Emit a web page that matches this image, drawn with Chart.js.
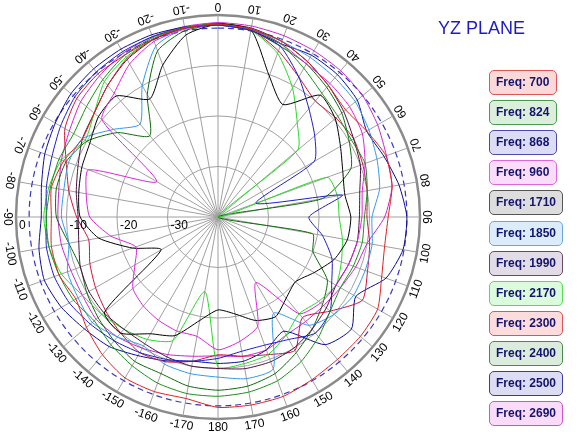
<!DOCTYPE html>
<html><head><meta charset="utf-8">
<script src="https://cdn.jsdelivr.net/npm/chart.js@4/dist/chart.umd.min.js"></script>
<style>
html,body{margin:0;padding:0;background:#fff;}
#wrap{position:relative;width:586px;height:436px;overflow:hidden;background:#fff;}
#c{position:absolute;left:0;top:0;}
#title{position:absolute;left:438px;top:18px;font:18px "Liberation Sans",Arial,sans-serif;color:#1c1cc4;white-space:nowrap;}
.lg{position:absolute;left:489px;height:25px;border:1px solid;border-radius:5px;box-sizing:border-box;font:bold 12px "Liberation Sans",Arial,sans-serif;color:#14146e;line-height:23px;padding-left:6px;white-space:nowrap;}
</style></head>
<body><div id="wrap"><canvas id="c" width="586" height="436"></canvas><div id="title">YZ PLANE</div></div>
<script>
// angle tick labels (0 at top, clockwise)
const angleLabels = ['0','10','20','30','40','50','60','70','80','90','100','110','120','130','140','150','160','170','180',
  '-170','-160','-150','-140','-130','-120','-110','-100','-90','-80','-70','-60','-50','-40','-30','-20','-10'];
const ringValues = [-30,-20,-10,0];
const ringLabels = ['-30','-20','-10','0'];
const freqs = ['700','824','868','960','1710','1850','1990','2170','2300','2400','2500','2690'];

// gain in dB at each angle of angleLabels
const f700  = [-1.8,-2.2,-3,-4.5,-6,-7,-6,-4.6,-5,-6.3, -6.5,-5.5,-3.5,-3.2,-3.2,-2.8,-2.2,-2.2,-2.3, -3.5,-3.2,-3.2,-4.4,-6,-7.5,-6.5,-6.5,-7,-6.5,-7.5,-9,-8,-6,-3.8,-2.5,-2];
const f824  = [-1.8,-2.2,-3.5,-6,-8,-9,-9.5,-9,-10,-11, -11,-11.5,-12,-11,-9,-7,-5.5,-4.8,-4.5, -4.5,-5,-6,-7,-8,-7,-6.5,-6,-6,-6.3,-6.5,-7,-6,-4.5,-3,-2.2,-1.9];
const f868  = [-2,-2.5,-4,-8,-12,-15,-18,-32,-15,-22, -19,-16,-14,-11,-10,-12,-13,-13,-12, -11,-10,-9,-8,-7,-6,-5.5,-5.5,-6,-5.5,-5,-4,-3,-2.5,-2.2,-2,-2];
const f960  = [-2,-2.3,-3.5,-5,-5.5,-6,-7,-9,-11,-11.5, -12,-12.5,-13,-13.5,-15,-25,-17,-15,-13.7, -16,-16,-16.4,-17,-18,-21,-22.7,-18.4,-14.6,-13.5,-12.7,-26,-10,-8,-5,-3,-2.2];
const f1710 = [-1.8,-2.4,-10.3,-14.3,-8.5,-9.7,-12,-13.7,-14.5,-13.7, -14,-15.5,-18,-20,-19,-17.2,-18.2,-20.5,-21.6, -19.2,-15,-13.3,-10,-10.7,-27,-22,-16,-12.7,-12,-11.3,-10.7,-9.1,-8.7,-13,-8,-3.4];
const f1850 = [-1.8,-2.2,-3,-3.5,-4,-4.5,-5.5,-6.5,-7.5,-9.5, -9,-9,-9,-10,-12,-18,-8,-7.5,-8.3, -8.5,-9,-10.5,-9,-7.5,-8,-8.3,-10,-9,-9,-8.5,-9,-13,-16,-10,-4,-2];
const f1990 = [-1.7,-2,-3,-4.5,-6,-7.5,-9,-10,-11.5,-12, -12,-12.5,-13,-12,-11,-10,-9.5,-9.5,-10, -10,-10.5,-11,-11,-10.5,-10.5,-11,-12,-12.3,-11.5,-10.5,-9,-8,-6,-4,-2.6,-2];
const f2170 = [-2,-2.5,-5.5,-10.5,-15.6,-19.4,-40,-17,-16,-16, -15,-14,-13,-14,-15,-13,-11,-10.5,-10.3, -25,-14,-12,-11,-10,-9,-7,-6,-5.5,-6,-7,-9.6,-8,-5,-3.5,-2.5,-2];
const f2300 = [-1.7,-2.3,-5,-8,-10,-9.5,-9,-9.5,-10,-10.5, -9.5,-8.5,-7,-11,-14,-9.5,-11,-12,-12.7, -11,-9.5,-9,-10,-11,-12,-13,-14,-12,-10,-8,-5,-3.5,-3,-3,-2.5,-2];
const f2400 = [-2,-2.5,-4,-5,-6.5,-8,-10,-12,-19,-40, -21,-20,-15,-13,-11,-9,-7,-6,-5.7, -6,-7,-7,-8,-9,-10,-11,-10,-8,-7.5,-8,-10,-14,-19,-12,-5,-2.5];
const f2500 = [-2,-2.5,-3.5,-3,-3.2,-4,-6,-5,-3.6,-2.6, -2.8,-4.6,-8.5,-5.5,-7,-13.9,-12,-11,-11, -11,-9.7,-8.3,-6.5,-5.5,-4.2,-3.4,-4,-5,-4.5,-3.5,-2.8,-2,-1.7,-1.6,-1.6,-1.8];
const f2690 = [-1.5,-1.6,-1.8,-2,-2.2,-2.6,-3.5,-4.5,-5,-7, -10,-11,-12,-12.7,-13,-13,-12,-12,-12.5, -12,-11,-10,-9,-8.5,-9,-9,-8.5,-8.3,-8,-7,-6,-4.5,-3.5,-2.5,-2,-1.7];
const refCircle = [-2.6,-2.6,-2.6,-2.6,-2.6,-2.6,-2.6,-2.6,-2.6,-2.6,-2.6,-2.6,-2.6,-2.6,-2.6,-2.6,-2.6,-2.6,-2.6,
  -2.6,-2.6,-2.6,-2.6,-2.6,-2.6,-2.6,-2.6,-2.6,-2.6,-2.6,-2.6,-2.6,-2.6,-2.6,-2.6,-2.6];

const seriesData = [f700,f824,f868,f960,f1710,f1850,f1990,f2170,f2300,f2400,f2500,f2690];
// styles
const lineColors = ['#e02020','#189018','#1c1cc8','#e020e0','#000000','#3399ee','#4a1040','#22dd22','#d0103a','#0a6a0a','#0a0a9a','#cc22cc'];
const boxFills   = ['#fcd9d9','#dcefdc','#dcdcf5','#fbdcfb','#dddddd','#dcecfb','#e2dce6','#dcfadc','#fcdcdc','#dcecdc','#dcdcf2','#fadcfa'];
const boxBorders = ['#e05555','#4c9a4c','#4a4ab0','#dd66dd','#555555','#66aadd','#6a4a66','#55dd55','#dd5555','#4a8a4a','#3a3aa0','#cc55cc'];

const wrap = document.getElementById('wrap');
freqs.forEach((f,i)=>{
  const d = document.createElement('div');
  d.className='lg';
  d.textContent = 'Freq: ' + f;
  d.style.top = (70 + i*30.1) + 'px';
  d.style.width = (f.length > 3 ? 74 : 68) + 'px';
  d.style.background = boxFills[i];
  d.style.borderColor = boxBorders[i];
  if (f === '1710') d.style.borderWidth = '1.5px';
  wrap.appendChild(d);
});

const labelPlugin = {
  id:'polarLabels',
  afterDraw(chart){
    const s = chart.scales.r, ctx = chart.ctx;
    const cx = s.xCenter, cy = s.yCenter, R = s.drawingArea;
    ctx.save();
    ctx.fillStyle = '#000';
    ctx.font = '12px "Liberation Sans", Arial, sans-serif';
    ctx.textAlign = 'center'; ctx.textBaseline = 'middle';
    const n = angleLabels.length;
    angleLabels.forEach((t,i)=>{
      const a = i * 2 * Math.PI / n;
      const x = cx + (R + 9) * Math.sin(a), y = cy - (R + 9) * Math.cos(a);
      ctx.save(); ctx.translate(x,y); ctx.rotate(a + Math.PI); ctx.fillText(t,0,0); ctx.restore();
    });
    ctx.textAlign = 'left'; ctx.textBaseline = 'top';
    ringValues.forEach((v,i)=>{
      const d = s.getDistanceFromCenterForValue(v);
      ctx.fillText(ringLabels[i], cx - d + 3, cy + 3);
    });
    ctx.restore();
  }
};

const datasets = seriesData.map((arr,i)=>({
  label:'Freq: ' + freqs[i], data:arr, borderColor:lineColors[i], borderWidth:1, fill:false, tension:0.2, pointRadius:0
}));
datasets.push({label:'ref', data:refCircle, borderColor:'#3636c0', borderWidth:1.2, borderDash:[6,4], fill:false, tension:0.35, pointRadius:0});

new Chart(document.getElementById('c'), {
  type:'radar',
  data:{labels:angleLabels, datasets},
  options:{
    responsive:false, animation:false, devicePixelRatio:1,
    layout:{padding:{left:16, top:15, right:166, bottom:17}},
    plugins:{legend:{display:false}, tooltip:{enabled:false}, title:{display:false}},
    scales:{r:{
      min:-40, max:0,
      ticks:{display:false, stepSize:10},
      pointLabels:{display:false},
      grid:{circular:true,
        color:(c)=> (c.tick && c.tick.value === 0) ? '#8a8a8a' : '#a0a0a0',
        lineWidth:(c)=> (c.tick && c.tick.value === 0) ? 2.5 : 1},
      angleLines:{color:'#a0a0a0', lineWidth:1}
    }}
  },
  plugins:[labelPlugin]
});
</script></body></html>
